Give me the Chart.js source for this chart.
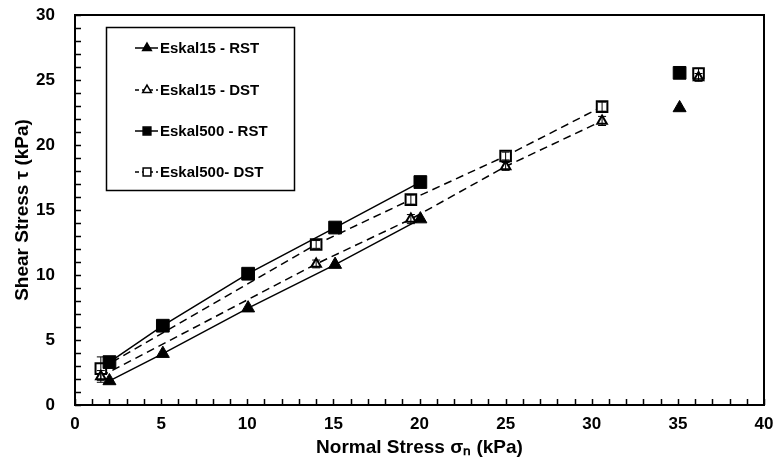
<!DOCTYPE html>
<html>
<head>
<meta charset="utf-8">
<script src="https://cdn.jsdelivr.net/npm/chart.js@4.4.1/dist/chart.umd.min.js"></script>
<style>
  html, body { margin: 0; padding: 0; background: #fff; }
  #wrap { width: 774px; height: 463px; }
</style>
</head>
<body>
<div id="wrap"><canvas id="chart"></canvas></div>
<script>
// values
const e15RstX = [2.0, 5.1, 10.05, 15.1, 20.05, 35.1];
const e15RstY = [1.85, 3.95, 7.45, 10.8, 14.3, 22.85];

const e15DstX = [1.5, 14.0, 19.5, 25.0, 30.6, 36.2];
const e15DstY = [2.2, 10.85, 14.3, 18.35, 21.85, 25.2];
const e15DstErr = [0.45, 0.3, 0.35, 0.3, 0.35, 0.3];

const e500RstX = [2.0, 5.1, 10.05, 15.1, 20.05, 35.1];
const e500RstY = [3.3, 6.1, 10.1, 13.65, 17.15, 25.55];

const e500DstX = [1.5, 14.0, 19.5, 25.0, 30.6, 36.2];
const e500DstY = [2.8, 12.35, 15.8, 19.15, 22.95, 25.5];
const e500DstErr = [0.9, 0.3, 0.35, 0.3, 0.35, 0.4];

const xTicks = [0, 5, 10, 15, 20, 25, 30, 35, 40];
const yTicks = [0, 5, 10, 15, 20, 25, 30];

const FONT = "'Liberation Sans', Arial, sans-serif";

function pts(xs, ys) {
  return xs.map((x, i) => ({ x: x, y: ys[i] }));
}

// last point of each series is not joined to the line
function hideLast(n) {
  return {
    borderColor: ctx => ctx.p1DataIndex === n - 1 ? "rgba(0,0,0,0)" : "#000"
  };
}

const datasets = [
  {
    label: "Eskal15 - RST",
    data: pts(e15RstX, e15RstY),
    showLine: true,
    borderColor: "#000",
    borderWidth: 1.5,
    pointStyle: "triangle",
    pointRadius: 7.5,
    pointBackgroundColor: "#000",
    pointBorderColor: "#000",
    pointBorderWidth: 1,
    segment: hideLast(e15RstX.length)
  },
  {
    label: "Eskal15 - DST",
    data: pts(e15DstX, e15DstY),
    err: e15DstErr,
    showLine: true,
    borderColor: "#000",
    borderWidth: 1.5,
    borderDash: [8, 5],
    pointStyle: "triangle",
    pointRadius: 5.5,
    pointBackgroundColor: "#fff",
    pointBorderColor: "#000",
    pointBorderWidth: 2,
    segment: hideLast(e15DstX.length)
  },
  {
    label: "Eskal500 - RST",
    data: pts(e500RstX, e500RstY),
    showLine: true,
    borderColor: "#000",
    borderWidth: 1.5,
    pointStyle: "rect",
    pointRadius: 9,
    pointBackgroundColor: "#000",
    pointBorderColor: "#000",
    pointBorderWidth: 1,
    segment: hideLast(e500RstX.length)
  },
  {
    label: "Eskal500- DST",
    data: pts(e500DstX, e500DstY),
    err: e500DstErr,
    showLine: true,
    borderColor: "#000",
    borderWidth: 1.5,
    borderDash: [8, 5],
    pointStyle: "rect",
    pointRadius: 7.5,
    pointBackgroundColor: "#fff",
    pointBorderColor: "#000",
    pointBorderWidth: 2,
    segment: hideLast(e500DstX.length)
  }
];

// error whiskers for DST series
const errorBars = {
  id: "errorBars",
  afterDatasetsDraw(chart) {
    const ctx = chart.ctx;
    const xs = chart.scales.x, ys = chart.scales.y;
    ctx.save();
    ctx.strokeStyle = "#000";
    ctx.lineWidth = 1;
    chart.data.datasets.forEach(ds => {
      if (!ds.err) return;
      ds.data.forEach((p, i) => {
        const px = xs.getPixelForValue(p.x);
        const top = ys.getPixelForValue(p.y + ds.err[i]);
        const bot = ys.getPixelForValue(p.y - ds.err[i]);
        ctx.beginPath();
        ctx.moveTo(px, top); ctx.lineTo(px, bot);
        ctx.moveTo(px - 4, top); ctx.lineTo(px + 4, top);
        ctx.moveTo(px - 4, bot); ctx.lineTo(px + 4, bot);
        ctx.stroke();
      });
    });
    ctx.restore();
  }
};

// frame, inward minor ticks and boxed legend
const frameAndLegend = {
  id: "frameAndLegend",
  afterDraw(chart) {
    const ctx = chart.ctx;
    const a = chart.chartArea;
    const xs = chart.scales.x, ys = chart.scales.y;
    ctx.save();
    ctx.strokeStyle = "#000";
    ctx.lineWidth = 2;
    ctx.strokeRect(a.left, a.top, a.right - a.left, a.bottom - a.top);

    ctx.lineWidth = 1.5;
    ctx.beginPath();
    for (let v = 0; v <= 40; v++) {
      const px = Math.round(xs.getPixelForValue(v)) + 0.5;
      ctx.moveTo(px, a.bottom);
      ctx.lineTo(px, a.bottom - 6);
    }
    for (let v = 0; v <= 30; v++) {
      const py = Math.round(ys.getPixelForValue(v)) + 0.5;
      ctx.moveTo(a.left, py);
      ctx.lineTo(a.left + 6, py);
    }
    ctx.stroke();

    // legend box
    ctx.lineWidth = 1.5;
    ctx.strokeRect(106.5, 27.5, 188, 163);
    const rows = [48, 90, 131, 172];
    ctx.font = "bold 15px " + FONT;
    ctx.textBaseline = "middle";
    ctx.fillStyle = "#000";
    chart.data.datasets.forEach((ds, i) => {
      const y = rows[i];
      ctx.save();
      ctx.lineWidth = 1.5;
      ctx.setLineDash(ds.borderDash ? [4, 3] : []);
      ctx.beginPath();
      ctx.moveTo(135, y);
      ctx.lineTo(158, y);
      ctx.stroke();
      ctx.restore();
      ctx.save();
      ctx.fillStyle = ds.pointBackgroundColor;
      ctx.strokeStyle = "#000";
      ctx.lineWidth = 1.5;
      Chart.helpers.drawPoint(ctx, {
        pointStyle: ds.pointStyle,
        radius: ds.pointStyle === "rect" ? 5.5 : 5,
        borderWidth: 1.5
      }, 147, y);
      ctx.restore();
      ctx.fillText(ds.label, 160, y + 1);
    });
    ctx.restore();
  }
};

function noScalePadding(s) {
  s.paddingTop = 0;
  s.paddingBottom = 0;
  s.paddingLeft = 0;
  s.paddingRight = 0;
}

new Chart(document.getElementById("chart"), {
  type: "scatter",
  data: { datasets: datasets },
  plugins: [errorBars, frameAndLegend],
  options: {
    responsive: true,
    maintainAspectRatio: false,
    animation: false,
    layout: { padding: { top: 15, right: 9, left: 0, bottom: 0 } },
    plugins: {
      legend: { display: false },
      tooltip: { enabled: false }
    },
    scales: {
      x: {
        type: "linear",
        min: 0,
        max: 40,
        afterBuildTicks: s => { s.ticks = xTicks.map(v => ({ value: v })); },
        afterFit: s => { s.height = 58; noScalePadding(s); },
        grid: { display: false, drawTicks: false },
        border: { display: false },
        ticks: {
          color: "#000",
          padding: 9,
          maxRotation: 0,
          font: { family: FONT, size: 17, weight: "bold" }
        },
        title: {
          display: true,
          text: "Normal Stress σₙ (kPa)",
          color: "#000",
          padding: { top: 2, bottom: 4 },
          font: { family: FONT, size: 19, weight: "bold" }
        }
      },
      y: {
        type: "linear",
        min: 0,
        max: 30,
        afterBuildTicks: s => { s.ticks = yTicks.map(v => ({ value: v })); },
        afterFit: s => { s.width = 75; noScalePadding(s); },
        grid: { display: false, drawTicks: false },
        border: { display: false },
        ticks: {
          color: "#000",
          padding: 20,
          font: { family: FONT, size: 17, weight: "bold" }
        },
        title: {
          display: true,
          text: "Shear Stress τ (kPa)",
          color: "#000",
          padding: { top: 11, bottom: 0 },
          font: { family: FONT, size: 19, weight: "bold" }
        }
      }
    }
  }
});
</script>
</body>
</html>
